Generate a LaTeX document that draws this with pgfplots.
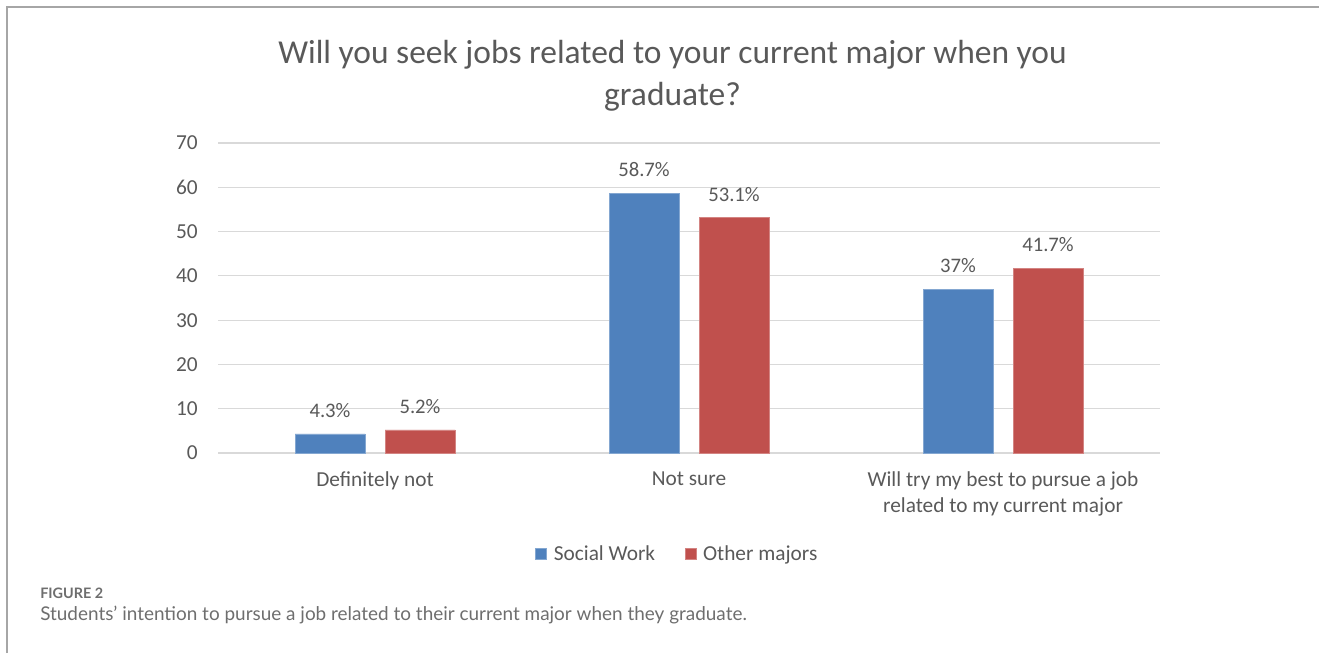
\documentclass[border=0pt]{standalone}
\usepackage{pgfplots}
\pgfplotsset{compat=1.18}
\usepackage{fontspec}
\setmainfont{Carlito}
\newfontfamily\capfont{Lato}
\definecolor{txt}{HTML}{595959}
\definecolor{gridc}{HTML}{D9D9D9}
\definecolor{swblue}{HTML}{4F81BD}
\definecolor{omred}{HTML}{C0504D}
\definecolor{frame}{HTML}{A6A6A6}
\definecolor{capc}{HTML}{6E6E6E}
\pgfplotsset{/pgf/number format/assume math mode=true}
\begin{document}
\begin{tikzpicture}
\useasboundingbox (0,0) rectangle (989.25pt,-489.75pt);
\draw[frame, line width=1.1pt] (5.25pt,-489.75pt) -- (5.25pt,-5.25pt) -- (989.25pt,-5.25pt);
\node[anchor=base, inner sep=0pt, text=txt, font=\fontsize{25.1}{30}\selectfont] at (504.4pt,-47.25pt) {Will you seek jobs related to your current major when you};
\node[anchor=base, inner sep=0pt, text=txt, font=\fontsize{25.1}{30}\selectfont] at (504.4pt,-78.75pt) {graduate?};
\begin{axis}[
  at={(163.5pt,-339.75pt)}, anchor=south west,
  scale only axis, width=706.5pt, height=232.5pt,
  ybar, bar width=52.5pt,
  xmin=-0.5, xmax=2.5, ymin=0, ymax=70,
  xtick={0,1,2},
  xticklabels={{Definitely not},{Not sure},{Will try my best to pursue a job\\related to my current major}},
  ytick={0,10,...,70},
  axis line style={draw=none},
  major tick length=0pt,
  ymajorgrids, grid style={gridc, line width=0.9pt},
  tick label style={font=\fontsize{16}{19.8}\selectfont, text=txt},
  yticklabel style={anchor=east, inner sep=0pt, xshift=-15pt},
  xticklabel style={anchor=north, inner sep=0pt, yshift=-13.8pt, align=center},
  nodes near coords={\pgfmathprintnumber{\pgfplotspointmeta}\%},
  every node near coord/.append style={font=\fontsize{15.5}{18.7}\selectfont, text=txt, anchor=south, inner sep=0pt, text depth=0pt, yshift=12pt},
  legend style={at={(0.488,-0.326)}, anchor=center, draw=none, fill=none, legend columns=2,
    font=\fontsize{16}{19}\selectfont, text=txt,
    /tikz/every even column/.append style={column sep=20pt}},
  legend cell align=left,
  legend image code/.code={\fill[#1] (0pt,-4.125pt) rectangle (8.25pt,4.125pt); \path (11.25pt,0pt);},
]
\addplot[fill=swblue, draw=swblue!70!white, line width=0.6pt, bar shift=-33.75pt] coordinates {(0,4.3) (1,58.7) (2,37)};
\addplot[fill=omred, draw=omred!70!white, line width=0.6pt, bar shift=33.75pt] coordinates {(0,5.2) (1,53.1) (2,41.7)};
\legend{Social Work, Other majors}
\end{axis}
\node[anchor=base west, inner sep=0pt, text=capc, font=\capfont\bfseries\fontsize{10.8}{12}\selectfont] at (30pt,-448.5pt) {FIGURE 2};
\node[anchor=base west, inner sep=0pt, text=capc, font=\capfont\fontsize{14.2}{16}\selectfont] at (30pt,-465pt) {Students’ intention to pursue a job related to their current major when they graduate.};
\end{tikzpicture}
\end{document}
